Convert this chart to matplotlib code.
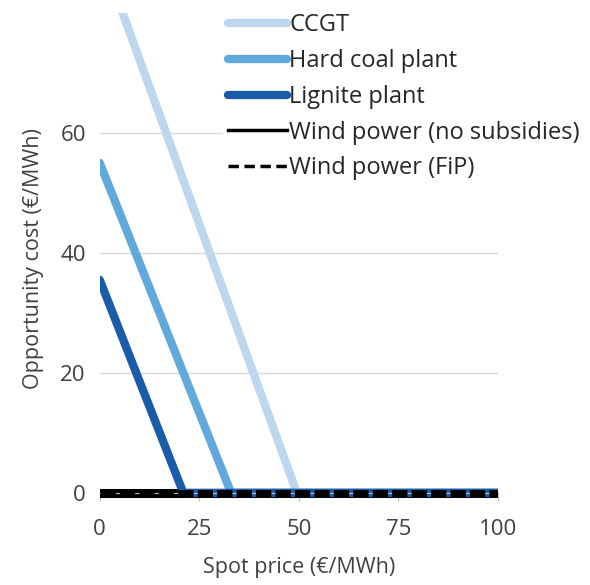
import numpy as np
from matplotlib import pyplot as plt

# spot price grid (EUR/MWh) and opportunity costs
spot = [0, 21, 33, 49.5, 100]
ccgt = [90.5, 52.1, 30.2, 0, 0]
hard_coal = [55.0, 20.0, 0, 0, 0]
lignite = [35.5, 0, 0, 0, 0]
wind_nosub = [0, 0, 0, 0, 0]
wind_fip = [0, 0, 0, 0, 0]

labels = ['CCGT', 'Hard coal plant', 'Lignite plant',
          'Wind power (no subsidies)', 'Wind power (FiP)']

plt.rcParams['font.family'] = ['Open Sans', 'DejaVu Sans']

fig = plt.figure(figsize=(5.9, 5.85), dpi=100)
ax = fig.add_axes([0.169, 0.137, 0.675, 0.841])

ax.plot(spot, ccgt, color='#bdd7ee', lw=6, solid_capstyle='round', label=labels[0], zorder=2)
ax.plot(spot, hard_coal, color='#62a9db', lw=6, solid_capstyle='round', label=labels[1], zorder=2)
ax.plot(spot, lignite, color='#1a5ca8', lw=6, solid_capstyle='round', label=labels[2], zorder=2)
ax.plot(spot, wind_nosub, color='black', lw=6.5, label=labels[3], zorder=1.5)
ax.plot(spot, wind_fip, color='black', lw=5, ls=(0, (2.2, 0.6)), label=labels[4], zorder=3)

ax.set_xlim(0, 100)
ax.set_ylim(-2, 80)
ax.set_xticks([0, 25, 50, 75, 100])
ax.set_yticks([0, 20, 40, 60])
ax.yaxis.grid(True, color='#d9d9d9', lw=1)
ax.set_axisbelow(True)
for s in ['top', 'right', 'left']:
    ax.spines[s].set_visible(False)
ax.spines['bottom'].set_position(('data', 0))
ax.spines['bottom'].set_color('#bfbfbf')
ax.tick_params(axis='y', length=0, labelsize=16, colors='#404040', pad=10)
ax.tick_params(axis='x', length=6, color='#bfbfbf', labelsize=16,
               colors='#404040', pad=13)
ax.set_xlabel('Spot price (€/MWh)', fontsize=15.5, color='#404040', labelpad=12)
ax.set_ylabel('Opportunity cost (€/MWh)', fontsize=15.5, color='#404040', labelpad=12)

leg = ax.legend(loc='upper left', bbox_to_anchor=(0.28, 1.033), fontsize=17,
                frameon=True, handlelength=2.5, handletextpad=0.1,
                labelspacing=0.5, borderpad=0.2)
leg.get_frame().set_edgecolor('none')
leg.get_frame().set_facecolor('white')
leg.get_frame().set_alpha(1)
for t in leg.get_texts():
    t.set_color('#262626')
hl = leg.get_lines()
hl[3].set_linewidth(2.5)
hl[4].set_linewidth(2.5)
hl[4].set_linestyle((0, (3, 1.6)))

fig.savefig('out.png', dpi=100)
